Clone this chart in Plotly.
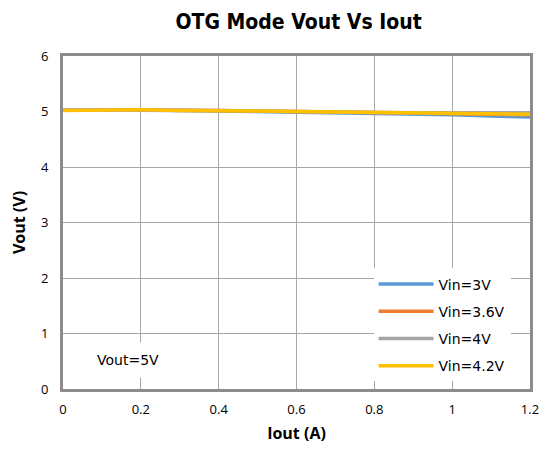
import plotly.graph_objects as go

iout = [0, 0.1, 0.2, 0.3, 0.4, 0.5, 0.6, 0.7, 0.8, 0.9, 1.0, 1.1, 1.2]
vin_3 = [5.03, 5.03, 5.03, 5.02, 5.01, 5.00, 4.99, 4.98, 4.97, 4.95, 4.94, 4.92, 4.90]
vin_36 = [5.03, 5.03, 5.03, 5.02, 5.02, 5.01, 5.00, 4.99, 4.98, 4.97, 4.96, 4.95, 4.94]
vin_4 = [5.03, 5.03, 5.03, 5.02, 5.02, 5.01, 5.00, 5.00, 4.99, 4.98, 4.97, 4.97, 4.96]
vin_42 = [5.02, 5.03, 5.03, 5.02, 5.02, 5.01, 5.00, 4.99, 4.98, 4.97, 4.96, 4.96, 4.95]

series = [
    ("Vin=3V", vin_3, "#5B9BD5"),
    ("Vin=3.6V", vin_36, "#ED7D31"),
    ("Vin=4V", vin_4, "#A5A5A5"),
    ("Vin=4.2V", vin_42, "#FFC000"),
]

x_ticks = [0, 0.2, 0.4, 0.6, 0.8, 1, 1.2]
x_tick_labels = ["0", "0.2", "0.4", "0.6", "0.8", "1", "1.2"]
y_ticks = [0, 1, 2, 3, 4, 5, 6]

fig = go.Figure()
for name, vals, color in series:
    fig.add_trace(go.Scatter(x=iout, y=vals, mode="lines", name=name, legendgroup=name,
                             line=dict(color=color, width=3.5)))

fig.update_layout(
    width=540, height=452,
    margin=dict(l=63, r=10, t=56, b=63, autoexpand=False),
    paper_bgcolor="white", plot_bgcolor="white",
    title=dict(text="<b>OTG Mode Vout Vs Iout</b>", x=0.553, xanchor="center", y=0.952, yanchor="middle",
               font=dict(family="'DejaVu Sans Condensed', 'Liberation Sans Narrow', 'Open Sans', sans-serif",
                         size=21, color="black"),
               automargin=False),
    font=dict(family="Open Sans", color="black"),
    legend=dict(x=0.665, y=0.362, xanchor="left", yanchor="top", bgcolor="white",
                font=dict(family="DejaVu Sans", size=14, color="black"),
                tracegroupgap=6, itemwidth=55),
    showlegend=True,
)
fig.update_xaxes(range=[0, 1.2], tickvals=x_ticks, ticktext=x_tick_labels,
                 showgrid=True, gridcolor="#A6A6A6", gridwidth=1,
                 showline=True, linecolor="#8C8C8C", linewidth=3, mirror=True,
                 zeroline=False, ticks="", ticklabelstandoff=6, automargin=False,
                 tickfont=dict(size=13, family="Open Sans"),
                 title=dict(text="<b>Iout (A)</b>", font=dict(size=16, family="Open Sans"), standoff=12))
fig.update_yaxes(range=[0, 6], tickvals=y_ticks,
                 showgrid=True, gridcolor="#A6A6A6", gridwidth=1,
                 showline=True, linecolor="#8C8C8C", linewidth=3, mirror=True,
                 zeroline=False, ticks="", ticklabelstandoff=9, automargin=False,
                 tickfont=dict(size=13, family="Open Sans"),
                 title=dict(text="<b>Vout (V)</b>", font=dict(size=16, family="Open Sans"), standoff=12))
fig.add_annotation(x=0.167, y=0.52, xref="x", yref="y", text="Vout=5V", showarrow=False,
                   bgcolor="white", font=dict(family="DejaVu Sans", size=14, color="black"),
                   borderpad=9)
fig.write_html("out.html", config={"displayModeBar": False},
               post_script="document.body.style.margin='0px';")
